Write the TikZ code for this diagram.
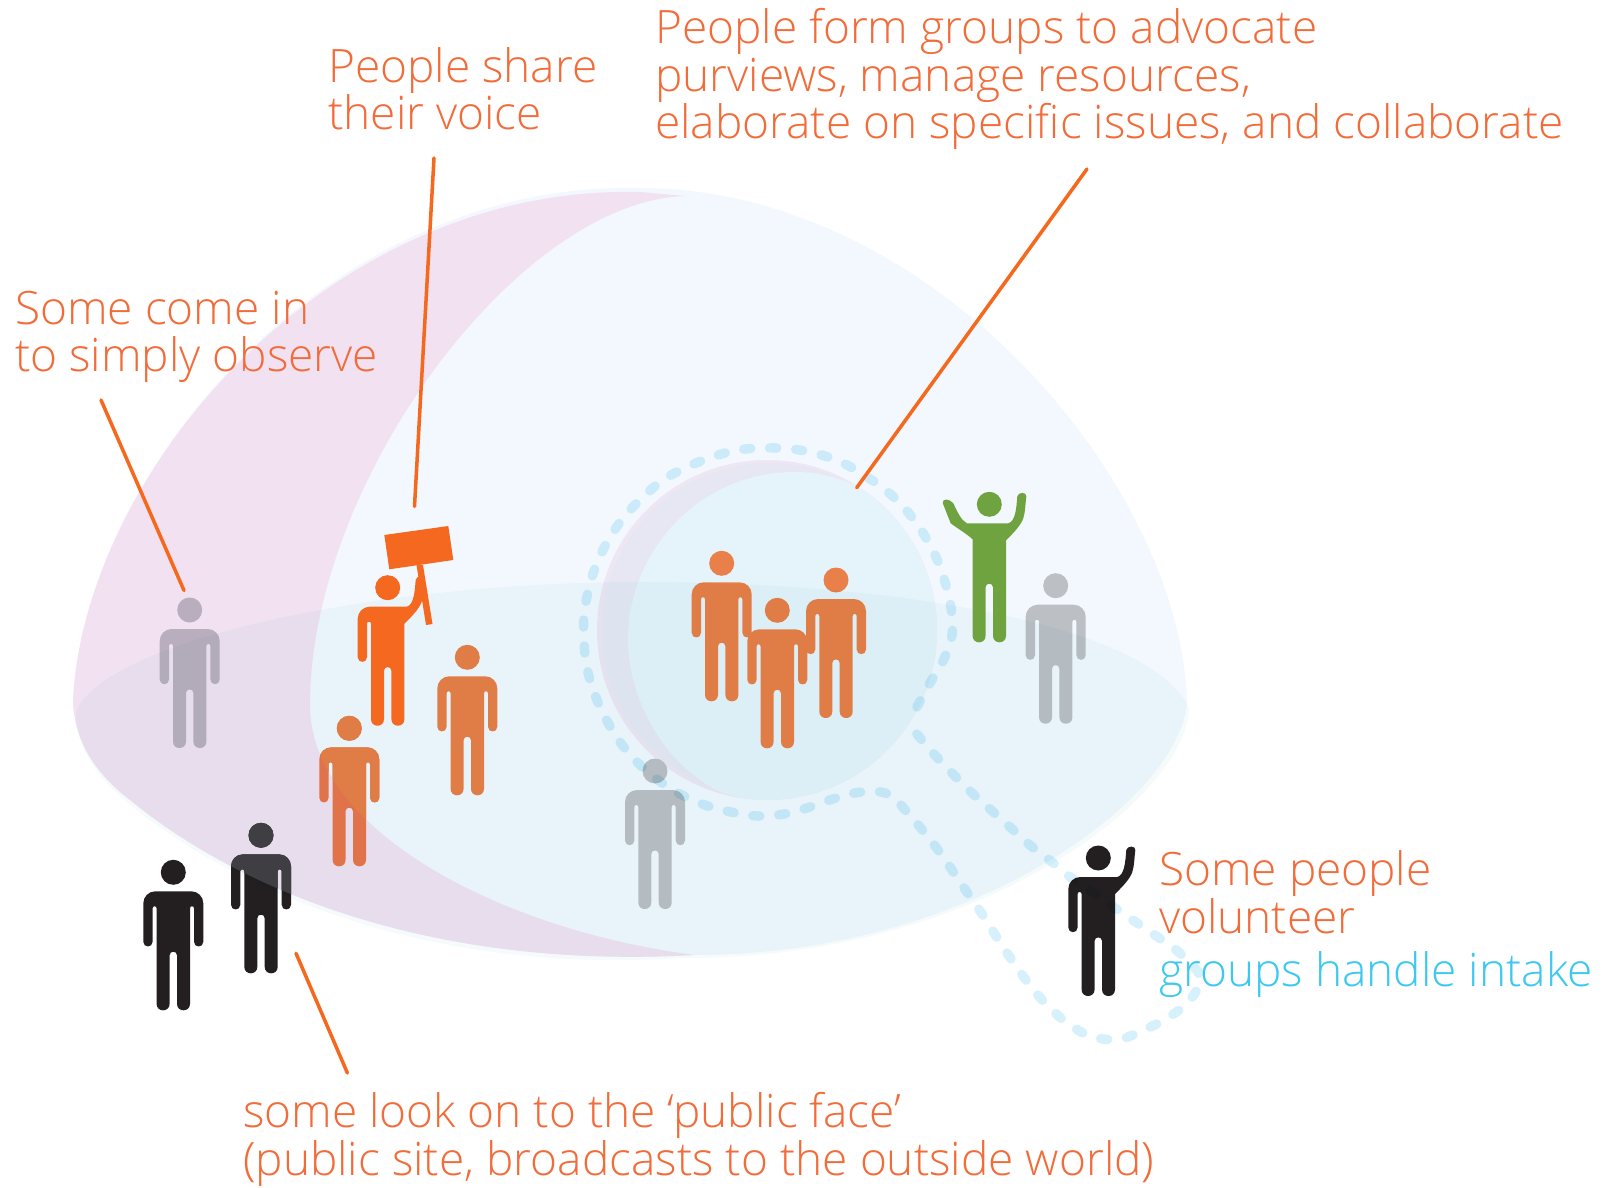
\documentclass[tikz,border=0pt]{standalone}
\usepackage{fontspec}
\setmainfont{Open Sans Light}
\definecolor{lead}{HTML}{F5691F}
\definecolor{txt}{HTML}{F26B38}
\definecolor{txtb}{HTML}{3CC8F0}
\definecolor{purp}{HTML}{F1E1F1}
\definecolor{pale}{HTML}{F3F8FE}
\definecolor{bandm}{HTML}{F5FBFB}
\definecolor{dotm}{HTML}{D6F1FB}
\definecolor{oran}{HTML}{EA8049}
\definecolor{oranp}{HTML}{EA754C}
\definecolor{signo}{HTML}{F4681F}
\definecolor{greyb}{HTML}{BCC0C5}
\definecolor{greyp}{HTML}{B9AEBD}
\definecolor{blk}{HTML}{231F20}
\definecolor{blkl}{HTML}{423F45}
\definecolor{grn}{HTML}{6FA340}
\definecolor{rim}{HTML}{EFE6F3}
\definecolor{cres}{HTML}{E7E7F3}
\definecolor{disc}{HTML}{E5F3FA}
\newcommand\StdL{(-16.7,36) .. controls (-16.7,33.3) and (-20.7,33.3) .. (-20.7,36) -- (-20.7,69.5) .. controls (-20.7,75.7) and (-30,75.7) .. (-30,69.5) -- (-30,31) .. controls (-30,24.4) and (-24.6,19) .. (-18,19)}
\newcommand\StdR{(18,19) .. controls (24.6,19) and (30,24.4) .. (30,31) -- (30,69.5) .. controls (30,75.7) and (20.7,75.7) .. (20.7,69.5) -- (20.7,36) .. controls (20.7,33.3) and (16.7,33.3) .. (16.7,36)}
\newcommand\RaiseR{(19,19) .. controls (26,17) and (27,5) .. (28,-8) .. controls (29,-12.5) and (37.5,-12.5) .. (37,-8) .. controls (36,0) and (36,8) .. (34,14) .. controls (32,20) and (26,27) .. (16.7,36)}
\newcommand\RaiseL{(-16.7,35) .. controls (-22,30) and (-32,24) .. (-38.6,19) -- (-46.5,-1) .. controls (-47.5,-6) and (-40,-6) .. (-36,-1) .. controls (-32,7) and (-29,15) .. (-22.6,19)}
\newcommand\Fig[5]{%
  \fill[#3,shift={(#1,#2)}] (0,0) circle[radius=12.5];
  \fill[#3,shift={(#1,#2)}] #4 -- #5 -- (16.7,131.5) .. controls (16.7,140.2) and (3.7,140.2) .. (3.7,131.5) -- (3.7,83) .. controls (3.7,78.2) and (-3.7,78.2) .. (-3.7,83) -- (-3.7,131.5) .. controls (-3.7,140.2) and (-16.7,140.2) .. (-16.7,131.5) -- cycle;
}
\newcommand\Std[3]{\Fig{#1}{#2}{#3}{\StdL}{\StdR}}
\newcommand\DomePath{(73,700) .. controls (74,745) and (100,777) .. (130,800) .. controls (240,890) and (430,970) .. (695,955) .. controls (970,955) and (1180,800) .. (1187,702) .. controls (1180,480) and (930,188) .. (640,188) .. controls (330,180) and (85,470) .. cycle}
\newcommand\CrescentPath{(686,196) .. controls (520,200) and (310,480) .. (310,705) .. controls (310,830) and (500,930) .. (695,955) .. controls (430,970) and (240,890) .. (130,800) .. controls (100,777) and (74,745) .. (73,700) .. controls (85,470) and (330,184) .. (640,192) -- cycle}
\newcommand\LensPath{(686,196) .. controls (520,200) and (310,480) .. (310,705) .. controls (310,830) and (500,930) .. (695,955) .. controls (970,955) and (1180,800) .. (1187,702) .. controls (1180,480) and (930,188) .. (640,188) -- cycle}
\newcommand\BandPath{(76,712) .. controls (105,640) and (380,582) .. (640,582) .. controls (900,582) and (1150,625) .. (1189,708) .. controls (1186,800) and (975,960) .. (680,958) .. controls (430,974) and (240,894) .. (128,803) .. controls (100,780) and (76,750) .. cycle}
\tikzset{
  lbl/.style={anchor=base west,inner sep=0pt,align=left,text=txt,font=\fontsize{13.08}{13.5}\selectfont},
  leader/.style={draw=lead,line width=1pt,line cap=round},
  dots/.style={draw=dotm,line width=2.7pt,line cap=round,dash pattern=on 2pt off 5.4pt}
}
\begin{document}
\begin{tikzpicture}[x=0.01cm,y=-0.01cm]
\useasboundingbox (0,0) rectangle (1602,1188);
\fill[white] (0,0) rectangle (1602,1188);
% dome
\fill[pale] \DomePath;
\fill[purp] \CrescentPath;
% inner disc
\fill[rim] (767,630) circle[radius=170];
\fill[cres] (769,630) circle[radius=167];
\fill[disc] (857,486) .. controls (835,476) and (815,472) .. (795,472) .. controls (700,472) and (628,550) .. (628,640) .. controls (628,700) and (665,765) .. (720,792) .. controls (735,797) and (750,800) .. (767,800) .. controls (861,800) and (937,724) .. (937,630) .. controls (937,570) and (905,515) .. (857,486) -- cycle;
% figures beneath the veil
\Std{189.7}{610}{greyp}
\Std{173.3}{872.3}{blk}
\Std{261}{835.3}{blk}
\begin{scope}\clip \DomePath; \Std{261}{835.3}{blkl} \end{scope}
\Std{349.3}{728.3}{oranp}
\begin{scope}\clip \LensPath; \Std{349.3}{728.3}{oran} \end{scope}
\Std{467.3}{657.3}{oran}
\Std{721.7}{563.3}{oran}
\Std{836}{580}{oran}
\Std{777.3}{610.3}{oran}
\Std{655}{771}{greyb}
\Std{1055.7}{585.7}{greyb}
\Fig{1098.3}{858}{blk}{\StdL}{\RaiseR}
% band and dots multiply
\begin{scope}[blend mode=multiply]
\fill[bandm] \BandPath;
\draw[dots] plot[smooth,tension=0.6] coordinates {(917,707) (930,683) (943,661) (952,635) (951,608) (945,582) (936,557) (923,533) (907,511) (888,492) (867,477) (843,463) (818,454) (792,449) (764,448) (738,450) (712,457) (687,467) (663,480) (643,497) (624,517) (609,539) (597,563) (589,588) (584,615) (584,642) (587,668) (595,695) (606,719) (620,742) (637,762) (658,780) (680,794) (705,805) (731,812) (758,816) (784,814) (810,807) (836,798) (862,792) (888,794) (907,812) (924,832) (941,854) (956,876) (971,898) (986,920) (1001,944) (1016,966) (1032,988) (1050,1008) (1070,1025) (1093,1037) (1120,1039) (1146,1029) (1169,1017) (1190,1000) (1200,977) (1182,955) (1162,940) (1140,925) (1118,910) (1094,893) (1070,877) (1052,862) (1031,846) (1011,828) (991,810) (971,792) (952,773) (933,753) (916,733)};
\end{scope}
% figures on top
\fill[signo] (384.3,535) -- (448.3,526) -- (453.3,560) -- (389.3,569.3) -- cycle;
\fill[signo] (416.5,565) -- (423,565) -- (432.5,624) -- (426,625) -- cycle;
\Fig{387.7}{587.7}{signo}{\StdL}{\RaiseR}
\Fig{989.3}{504.3}{grn}{\RaiseL}{\RaiseR}
% text
\node[lbl] (tgroups) at (654.5,138.5) {People form groups to advocate\\purviews, manage resources,\\elaborate on specific issues, and collaborate};
\node[lbl] (tshare) at (327.5,129.5) {People share\\their voice};
\node[lbl] (tobs) at (14.5,372) {Some come in\\to simply observe};
\node[lbl] (tvol) at (1158.5,933) {Some people\\volunteer};
\node[lbl,text=txtb] (tintake) at (1158.5,986) {groups handle intake};
\node[lbl] (tlook) at (242.5,1175) {some look on to the ‘public face’\\(public site, broadcasts to the outside world)};
% leaders
\coordinate (a1) at (101,400); \coordinate (a2) at (184,590.5);
\coordinate (b1) at (434,158); \coordinate (b2) at (414.5,506.5);
\coordinate (c1) at (1087,169); \coordinate (c2) at (856.7,487.7);
\coordinate (d1) at (296,953.3); \coordinate (d2) at (347.4,1073);
\draw[leader] (a1) -- (a2);
\draw[leader] (b1) -- (b2);
\draw[leader] (c1) -- (c2);
\draw[leader] (d1) -- (d2);
\end{tikzpicture}
\end{document}
